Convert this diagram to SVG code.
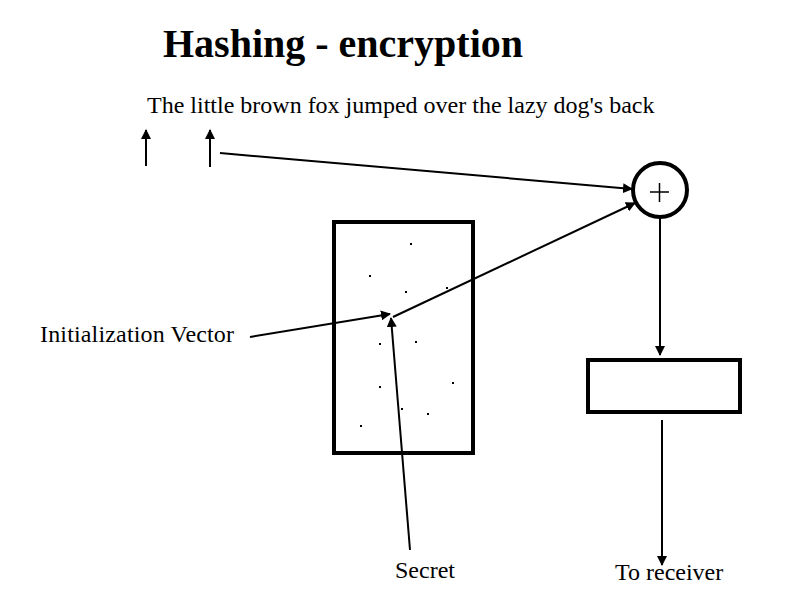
<svg xmlns="http://www.w3.org/2000/svg" width="794" height="595" viewBox="0 0 794 595">
<style>
text{font-family:"Liberation Serif","Times New Roman",serif;fill:#000}
.title{font-size:40px;font-weight:bold}
.lbl{font-size:24px}
.box{fill:none;stroke:#000;stroke-width:4}
.ln{fill:none;stroke:#000;stroke-width:2}
.dot{fill:#000}
</style>
<defs>
<marker id="ah" viewBox="0 0 10 10" refX="9" refY="5" markerWidth="5" markerHeight="5" orient="auto" markerUnits="strokeWidth">
<path d="M0,0 L10,5 L0,10 z" fill="#000"/>
</marker>
</defs>
<g id="title"><text class="title" x="163" y="57">Hashing - encryption</text></g>
<g id="message"><text class="lbl" x="147" y="113">The little brown fox jumped over the lazy dog's back</text></g>
<g id="iv-label"><text class="lbl" x="40" y="342" textLength="194">Initialization Vector</text></g>
<g id="secret-label"><text class="lbl" x="395" y="578">Secret</text></g>
<g id="receiver-label"><text class="lbl" x="615" y="580">To receiver</text></g>
<g id="hash-box">
<rect class="box" x="334" y="222" width="139" height="231"/>
<g class="dot">
<rect x="410" y="243" width="2" height="2"/><rect x="369" y="275" width="2" height="2"/>
<rect x="405" y="291" width="2" height="2"/><rect x="446" y="287" width="2" height="2"/>
<rect x="379" y="343" width="2" height="2"/><rect x="415" y="341" width="2" height="2"/>
<rect x="379" y="386" width="2" height="2"/><rect x="452" y="382" width="2" height="2"/>
<rect x="401" y="408" width="2" height="2"/><rect x="427" y="413" width="2" height="2"/>
<rect x="360" y="425" width="2" height="2"/>
</g>
</g>
<g id="xor">
<circle class="box" cx="660" cy="190" r="27"/>
<path d="M650,192 H669 M659.5,183 V202" stroke="#000" stroke-width="1.5"/>
</g>
<g id="output-box"><rect class="box" x="588" y="360" width="152" height="52"/></g>
<g id="connectors">
<line class="ln" x1="146" y1="166" x2="146" y2="130" marker-end="url(#ah)"/>
<line class="ln" x1="210" y1="167" x2="210" y2="130" marker-end="url(#ah)"/>
<line class="ln" x1="220" y1="153" x2="632" y2="189" marker-end="url(#ah)"/>
<line class="ln" x1="393" y1="317" x2="635" y2="203" marker-end="url(#ah)"/>
<line class="ln" x1="250" y1="337" x2="390" y2="314" marker-end="url(#ah)"/>
<line class="ln" x1="410" y1="550" x2="391" y2="318" marker-end="url(#ah)"/>
<line class="ln" x1="660" y1="218" x2="660" y2="355" marker-end="url(#ah)"/>
<line class="ln" x1="662" y1="420" x2="662" y2="565" marker-end="url(#ah)"/>
</g>
</svg>
